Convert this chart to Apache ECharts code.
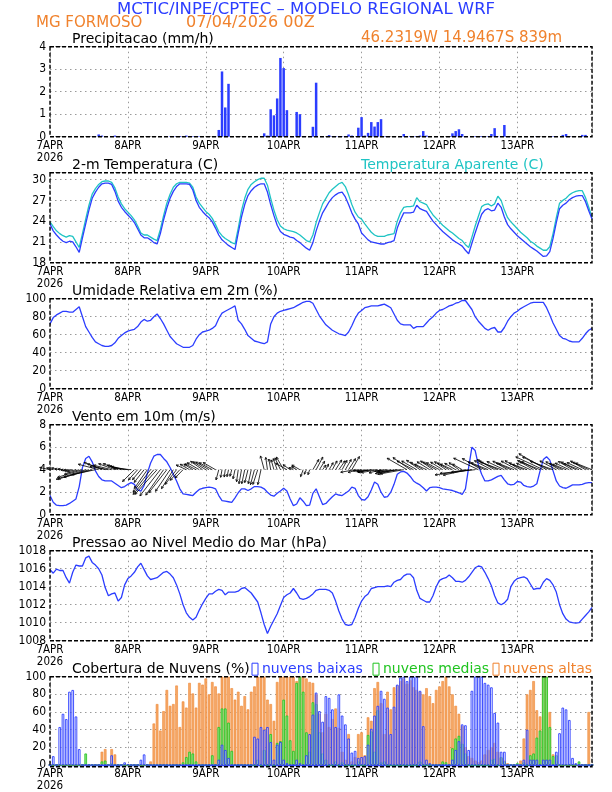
<!DOCTYPE html>
<html><head><meta charset="utf-8">
<script src="https://cdn.jsdelivr.net/npm/echarts@6/dist/echarts.min.js"></script>
<style>html,body{margin:0;padding:0;background:#fff}#c{width:612px;height:792px}</style>
</head><body><div id="c"></div>
<script>
// ---------- data (hourly, 07APR2026 00Z .. 13APR2026 23Z) ----------
const dayLabels = ['7APR\n2026','8APR','9APR','10APR','11APR','12APR','13APR'];

const precip = [
0,0,0,0,0,0,0,0,0,0,0,0,0,0,0,0.1,0.05,0,0,0,0.05,0,0,0,
0,0,0,0,0,0,0,0,0,0,0,0,0,0.02,0.02,0.02,0.03,0.02,0.05,0.02,0.02,0,0.02,0.02,
0,0,0,0,0.3,2.9,1.3,2.35,0,0,0,0,0,0,0,0,0,0,0.15,0.05,1.22,0.95,1.7,3.5,
3.05,1.18,0,0,1.1,1.0,0,0,0,0.44,2.4,0,0,0,0.07,0.02,0.02,0.02,0.02,0,0.1,0.05,0,0.4,
0.87,0.05,0.17,0.65,0.45,0.65,0.78,0.02,0,0,0,0,0,0.12,0.02,0.03,0.02,0.03,0.05,0.25,0.05,0.02,0,0,
0,0,0,0.03,0.15,0.25,0.33,0.12,0.02,0,0,0.02,0.02,0.03,0.03,0.02,0.12,0.38,0.02,0,0.52,0.02,0,0,
0,0,0,0,0,0,0.02,0,0,0,0,0.02,0,0,0.08,0.12,0.02,0,0,0,0.08,0.08,0,0];

const temp2m = [
23.6,22.6,22.0,21.5,21.1,20.9,21.1,21.0,20.3,19.5,21.6,23.6,25.6,27.3,28.2,28.9,29.4,29.5,29.5,29.3,28.3,26.9,26.0,25.4,
24.9,24.4,23.8,22.9,22.0,21.6,21.6,21.3,20.9,20.7,22.2,24.2,25.9,27.3,28.3,29.0,29.4,29.4,29.4,29.3,28.5,27.0,26.0,25.4,
24.9,24.5,23.9,23.0,22.0,21.3,20.9,20.5,20.2,19.9,22.3,24.6,26.4,27.7,28.4,28.9,29.2,29.4,29.4,28.2,26.4,24.8,23.4,22.5,
22.1,21.9,21.7,21.6,21.2,20.9,20.5,20.1,19.8,20.9,22.6,24.0,25.2,26.0,26.8,27.4,27.8,28.1,28.2,27.5,26.4,25.2,24.3,23.6,
22.3,21.8,21.3,21.0,20.9,20.8,20.7,20.7,20.9,21.0,21.2,23.0,24.2,25.2,25.2,25.2,25.3,26.3,25.8,25.6,25.4,24.7,24.0,23.5,
23.0,22.5,22.1,21.7,21.3,21.0,20.7,20.4,19.8,19.3,20.8,22.3,23.7,25.0,25.6,25.8,25.5,25.6,26.6,26.0,24.6,23.5,22.9,22.4,
21.9,21.5,21.1,20.7,20.3,20.0,19.7,19.3,18.9,19.0,19.6,21.5,23.8,25.8,26.3,26.6,27.1,27.4,27.6,27.7,27.7,26.8,25.5,24.3];

const tempAparente = [
23.9,23.2,22.6,22.2,21.9,21.7,21.9,21.8,21.0,20.2,22.2,24.3,26.3,27.9,28.7,29.3,29.7,29.8,29.8,29.6,28.8,27.5,26.5,25.8,
25.3,24.8,24.2,23.3,22.3,22.0,22.0,21.7,21.4,21.2,22.8,24.8,26.6,27.9,28.9,29.4,29.6,29.6,29.6,29.5,28.9,27.5,26.6,26.0,
25.4,25.0,24.4,23.5,22.5,21.9,21.5,21.2,20.9,20.7,23.0,25.5,27.3,28.6,29.3,29.7,30.0,30.2,30.2,29.2,27.3,25.6,24.2,23.3,
22.9,22.7,22.6,22.5,22.3,22.0,21.6,21.2,21.0,22.0,23.8,25.2,26.5,27.3,28.1,28.6,29.0,29.4,29.6,29.0,27.8,26.4,25.3,24.6,
24.3,23.6,23.0,22.4,22.0,21.8,21.8,21.8,22.0,22.1,22.2,24.0,25.2,26.0,26.1,26.1,26.2,27.4,26.8,26.6,26.4,25.6,24.9,24.4,
23.9,23.4,23.0,22.6,22.3,21.9,21.5,21.2,20.6,20.2,21.7,23.3,24.7,26.1,26.4,26.5,26.2,26.5,27.6,27.0,25.6,24.5,23.9,23.4,
22.9,22.4,22.0,21.6,21.1,20.8,20.4,20.1,19.8,19.8,20.3,22.2,24.5,26.6,27.0,27.3,27.8,28.1,28.3,28.4,28.4,27.4,26.0,24.6];

const umidade = [
72,79,82,84,86,86,85,85,88,91,80,69,63,57,52,50,48,47,47,48,51,56,59,62,
64,65,66,69,74,77,75,76,80,83,78,72,65,58,54,50,48,46,46,46,48,55,60,63,
64,65,67,70,78,84,86,88,90,92,76,72,66,59,56,53,52,51,50,52,72,80,84,86,
87,88,89,90,92,94,96,97,97,95,88,81,76,71,68,65,63,61,60,59,63,70,78,84,
87,90,91,92,92,92,93,94,92,90,83,76,72,71,71,71,67,69,69,69,73,77,80,84,
87,88,90,92,93,95,96,98,98,93,88,80,75,71,67,65,67,68,63,63,68,75,80,84,
86,89,91,93,95,96,96,96,96,90,82,73,66,59,56,55,53,52,52,52,56,61,65,67];

const ventoVel = [
1.7,1.1,0.85,0.8,0.8,0.85,1.0,1.2,1.4,2.5,4.2,5.0,5.2,4.7,3.9,3.4,3.1,3.0,3.0,3.0,2.8,2.6,2.4,2.5,
2.7,2.85,2.7,2.2,2.1,2.6,3.7,4.6,5.2,5.35,5.35,5.0,4.7,4.2,3.6,3.0,2.3,1.85,1.8,1.75,1.7,2.0,2.25,2.35,
2.4,2.45,2.4,2.3,1.7,1.25,1.2,1.15,1.1,1.5,1.95,2.3,2.3,2.15,2.3,2.5,2.5,2.45,2.3,2.0,1.75,1.65,1.9,2.1,
2.35,2.1,1.4,0.8,0.95,1.5,1.2,0.8,0.85,1.9,2.3,1.6,0.9,1.0,1.3,1.6,1.85,1.75,1.7,1.9,2.1,2.45,2.35,1.7,
1.35,1.3,1.6,2.2,2.9,2.7,2.0,1.55,1.6,2.0,2.7,3.6,3.8,3.85,3.7,3.4,3.0,2.8,2.65,2.4,2.1,2.4,2.45,2.45,
2.4,2.3,2.25,2.2,2.15,2.05,1.95,1.8,2.3,4.2,6.0,5.7,4.4,3.6,3.0,3.0,3.1,3.25,3.4,3.5,3.1,2.75,2.65,2.7,
2.95,2.9,2.6,2.5,2.45,2.55,2.75,3.9,4.9,5.15,4.85,3.9,3.0,2.55,2.4,2.35,2.5,2.65,2.65,2.65,2.7,2.8,2.85,2.85];

// direction the wind arrow points to (degrees, 0 = east, 90 = north)
const ventoDir = [
168,165,160,170,172,185,188,190,195,197,197,198,197,195,192,165,158,162,170,166,160,158,162,166,
170,175,225,228,230,232,235,232,230,228,232,235,232,236,238,232,228,226,155,150,148,152,150,145,
148,150,152,150,255,260,262,258,255,258,262,260,258,256,258,255,252,258,105,98,100,106,110,115,
120,150,145,155,148,150,250,245,252,60,62,58,55,65,60,62,58,55,62,60,58,60,190,195,
188,192,196,190,186,190,195,190,188,192,196,190,186,190,150,145,152,150,145,150,155,148,145,150,
152,148,145,150,155,150,145,150,190,192,188,186,155,150,155,158,152,150,155,160,155,150,155,158,
152,150,155,160,155,150,152,158,155,150,155,160,152,150,155,158,155,150,152,158,155,150,155,158];

const pressao = [
1015.9,1015.5,1015.95,1015.8,1015.8,1015.0,1014.4,1015.6,1016.4,1016.3,1016.3,1017.2,1017.4,1016.7,1016.4,1016.0,1015.3,1013.9,1013.0,1013.2,1013.3,1012.4,1012.8,1014.2,
1014.9,1015.2,1015.6,1016.2,1016.6,1015.9,1015.2,1014.8,1014.9,1015.0,1015.3,1015.6,1015.7,1015.4,1015.0,1014.2,1013.2,1012.0,1011.1,1010.6,1010.3,1010.6,1011.4,1012.1,
1012.7,1013.2,1013.2,1013.5,1013.7,1013.6,1013.1,1013.4,1013.4,1013.4,1013.5,1013.8,1013.9,1013.6,1013.3,1012.8,1012.3,1011.1,1009.8,1008.8,1009.6,1010.3,1011.0,1011.9,
1012.8,1013.1,1013.3,1013.8,1013.3,1012.7,1012.6,1012.7,1012.9,1013.2,1013.6,1013.7,1013.7,1013.7,1013.6,1013.3,1012.4,1011.3,1010.4,1009.8,1009.7,1009.8,1010.6,1011.6,
1012.4,1012.9,1013.2,1013.8,1013.9,1014.0,1014.0,1014.0,1014.1,1014.0,1014.5,1014.7,1014.8,1015.2,1015.4,1015.4,1015.0,1013.6,1012.7,1012.5,1012.3,1012.3,1013.0,1014.0,
1014.7,1014.9,1015.0,1015.3,1015.0,1014.6,1014.6,1014.5,1014.7,1015.1,1015.6,1016.1,1016.3,1016.2,1015.6,1014.9,1014.1,1013.0,1012.2,1012.0,1012.2,1012.6,1014.0,1014.6,
1014.9,1015.0,1015.1,1014.9,1014.3,1013.7,1013.8,1013.8,1014.5,1014.9,1014.7,1014.2,1013.4,1012.0,1011.0,1010.4,1010.1,1010.0,1009.95,1010.0,1010.4,1010.8,1011.2,1011.7];

const nuvensBaixas = [
0,10,0,43,58,52,83,85,55,18,0,0,0,0,0,0,0,0,0,11,0,0,0,3,
1,0,0,0,6,12,0,0,0,0,0,0,0,0,0,0,0,0,0,0,0,0,0,0,
0,0,0,0,6,23,17,8,0,0,0,0,0,0,0,32,30,43,40,43,26,6,23,26,
6,2,0,0,6,2,0,11,35,57,82,61,49,78,76,63,43,80,56,46,30,14,16,8,
9,10,23,41,56,67,84,75,65,35,66,91,99,100,95,100,100,100,84,44,6,2,0,0,
0,0,0,0,6,17,27,46,45,17,84,100,100,100,93,91,88,59,48,15,15,0,0,0,
0,0,6,40,6,6,6,0,6,6,6,0,15,36,65,63,51,8,2,0,0,0,0,0];

const nuvensMedias = [
0,0,0,0,0,0,0,0,0,0,0,13,0,0,0,0,4,5,0,2,0,0,0,0,
0,0,0,0,0,0,0,0,0,0,0,0,0,0,0,0,0,3,9,15,13,4,0,0,
0,0,11,0,43,64,64,48,16,0,0,0,0,0,0,0,6,0,17,0,35,0,25,27,
74,56,28,16,93,100,83,37,15,71,69,37,13,6,0,0,4,0,3,0,0,0,0,4,
0,0,34,38,15,62,3,4,0,0,0,0,0,0,0,0,0,0,4,0,0,0,0,0,
0,4,3,0,19,30,33,24,13,0,0,0,0,0,0,0,6,7,0,9,4,0,0,0,
2,0,3,0,11,13,31,39,100,100,43,10,11,0,0,0,0,0,0,4,0,0,0,0];

const nuvensAltas = [
0,0,0,0,0,0,0,0,0,0,0,0,0,0,0,0,15,18,0,18,12,0,0,0,
0,0,0,0,0,0,0,4,47,69,39,61,85,67,69,90,43,72,65,93,81,65,93,91,
98,80,94,89,81,100,100,100,87,74,83,67,78,63,83,89,100,100,100,74,69,50,94,100,
100,100,100,100,95,100,100,98,94,93,80,58,37,58,43,52,64,42,15,6,35,4,9,35,
37,11,54,50,87,94,70,35,83,63,88,90,95,98,92,96,88,85,83,80,87,78,70,85,
89,95,100,89,80,67,58,44,20,10,8,5,3,5,12,17,20,25,15,8,5,2,0,0,
0,5,30,80,85,95,62,55,100,100,60,12,5,0,0,0,0,0,0,0,0,0,60,0];

// ---------- layout / style ----------
const FONT = "'DejaVu Sans', sans-serif";
const NFONT = "'DejaVu Sans Condensed','Liberation Sans Narrow','DejaVu Sans', sans-serif";
const BLUE = '#2b3dff', CYAN = '#1fc4c4', ORANGE = '#f0822d', GREEN = '#1fc41f';
const L = 50, W = 542, PH = 90;
const tops = [46.7, 172.7, 298.7, 424.7, 550.7, 676.7];
const yCfg = [
  {min:0, max:4, interval:1},
  {min:18, max:31, interval:3},
  {min:0, max:100, interval:20},
  {min:0, max:8, interval:2},
  {min:1008, max:1018, interval:2},
  {min:0, max:100, interval:20}
];
const ARROW_PX = 6.2;

const hours = precip.map((_, i) => i);
const pts = arr => arr.map((v, i) => [i, v]);

const dotted = {color:'#9a9a9a', width:1, type:[1.5, 3.5]};

const option = {
  animation: false,
  backgroundColor: '#fff',
  grid: tops.map(t => ({left:L, top:t, width:W, height:PH, containLabel:false})),
  xAxis: tops.map((t, i) => ({
    gridIndex:i, type:'value', min:0, max:167, interval:24,
    axisLine: i === 5 ? {show:true, onZero:false, lineStyle:{color:BLUE, width:1.4}} : {show:false},
    axisTick:{show:false},
    splitLine:{show:true, lineStyle:dotted},
    axisLabel:{color:'#000', fontFamily:NFONT, fontSize:11.5, margin:3, lineHeight:12,
      formatter: v => (v % 24 === 0 ? dayLabels[v / 24] : '')}
  })),
  yAxis: yCfg.map((c, i) => ({
    gridIndex:i, type:'value', min:c.min, max:c.max, interval:c.interval,
    axisLine:{show:false}, axisTick:{show:false},
    splitLine:{show:true, lineStyle:dotted},
    axisLabel:{color:'#000', fontFamily:NFONT, fontSize:12, margin:4,
      formatter: v => ((v - c.min) % c.interval === 0 ? String(v) : '')}
  })),
  series: [
    {type:'bar', xAxisIndex:0, yAxisIndex:0, data:pts(precip), barWidth:2.5,
      itemStyle:{color:BLUE}, z:3},
    {type:'line', xAxisIndex:1, yAxisIndex:1, data:pts(tempAparente), symbol:'none',
      lineStyle:{color:CYAN, width:1.3}, z:3},
    {type:'line', xAxisIndex:1, yAxisIndex:1, data:pts(temp2m), symbol:'none',
      lineStyle:{color:BLUE, width:1.3}, z:4},
    {type:'line', xAxisIndex:2, yAxisIndex:2, data:pts(umidade), symbol:'none',
      lineStyle:{color:BLUE, width:1.3}, z:3},
    {type:'line', xAxisIndex:3, yAxisIndex:3, data:pts(ventoVel), symbol:'none',
      lineStyle:{color:BLUE, width:1.3}, z:3},
    {type:'custom', xAxisIndex:3, yAxisIndex:3,
      data: hours.map(h => [h, ventoVel[h], ventoDir[h]]),
      renderItem: function (params, api) {
        const p = api.coord([api.value(0), 4]);
        const s = api.value(1), d = api.value(2) * Math.PI / 180;
        const len = s * ARROW_PX;
        const ex = p[0] + Math.cos(d) * len, ey = p[1] - Math.sin(d) * len;
        const ha = 0.45, hl = 2.6;
        const b1 = [ex - hl * Math.cos(d - ha), ey + hl * Math.sin(d - ha)];
        const b2 = [ex - hl * Math.cos(d + ha), ey + hl * Math.sin(d + ha)];
        const st = {stroke:'#000', lineWidth:0.8, fill:null};
        return {type:'group', children:[
          {type:'polyline', shape:{points:[p, [ex, ey]]}, style:st},
          {type:'polyline', shape:{points:[b1, [ex, ey], b2]}, style:st}
        ]};
      }, z:5},
    {type:'line', xAxisIndex:4, yAxisIndex:4, data:pts(pressao), symbol:'none',
      lineStyle:{color:BLUE, width:1.3}, z:3},
    {type:'bar', xAxisIndex:5, yAxisIndex:5, data:pts(nuvensAltas), barWidth:2.6, barGap:'-100%',
      itemStyle:{color:'#f6a866', borderColor:'#ef8634', borderWidth:0.6}, z:2},
    {type:'bar', xAxisIndex:5, yAxisIndex:5, data:pts(nuvensMedias), barWidth:2.6, barGap:'-100%',
      itemStyle:{color:'#8fe27f', borderColor:GREEN, borderWidth:0.8}, z:3},
    {type:'bar', xAxisIndex:5, yAxisIndex:5, data:pts(nuvensBaixas), barWidth:2.6, barGap:'-100%',
      itemStyle:{color:'rgba(235,240,255,0.5)', borderColor:BLUE, borderWidth:0.9}, z:4}
  ],
  graphic: []
};

// frames
tops.forEach(t => option.graphic.push({type:'rect', z:10, silent:true,
  shape:{x:L, y:t, width:W, height:PH},
  style:{fill:null, stroke:'#000', lineWidth:1.4, lineDash:[4, 2]}}));

// texts
function txt(x, y, s, color, size, align) {
  option.graphic.push({type:'text', z:11, silent:true, x:x, y:y,
    style:{text:s, fill:color, font:`${size}px ${FONT}`, textAlign:align || 'left', textVerticalAlign:'middle'}});
}
txt(306, 10, 'MCTIC/INPE/CPTEC \u2013 MODELO REGIONAL WRF', BLUE, 16.5, 'center');
txt(36, 23, 'MG FORMOSO', ORANGE, 15);
txt(186, 23, '07/04/2026 00Z', ORANGE, 16);
txt(361, 38.5, '46.2319W 14.9467S 839m', ORANGE, 15);
const titles = ['Precipitacao (mm/h)', '2-m Temperatura (C)', 'Umidade Relativa em 2m (%)',
  'Vento em 10m (m/s)', 'Pressao ao Nivel Medio do Mar (hPa)', 'Cobertura de Nuvens (%)'];
titles.forEach((s, i) => txt(72, tops[i] - 7.5, s, '#000', 14));
txt(361, tops[1] - 7.5, 'Temperatura Aparente (C)', CYAN, 14);
// cloud legend
const legY = tops[5] - 7.5;
[[252, BLUE, 'nuvens baixas'], [373, GREEN, 'nuvens medias'], [493, ORANGE, 'nuvens altas']].forEach(([x, c, s]) => {
  option.graphic.push({type:'rect', z:11, silent:true, shape:{x:x, y:legY - 6, width:6, height:12},
    style:{fill:null, stroke:c, lineWidth:1}});
  txt(x + 10, legY, s, c, 14);
});

const chart = echarts.init(document.getElementById('c'), null, {renderer:'canvas'});
chart.setOption(option);
</script></body></html>
